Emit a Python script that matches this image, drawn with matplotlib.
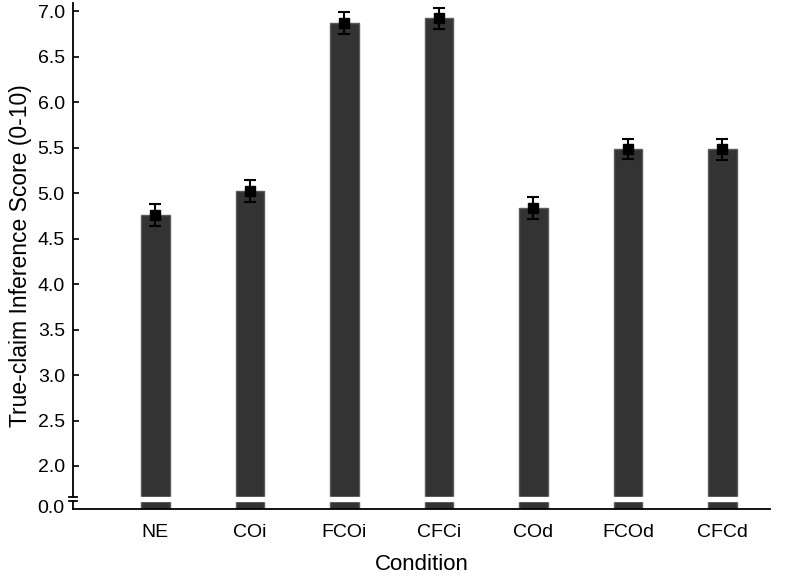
# -*- coding: utf-8 -*-
from matplotlib import pyplot as plt
import numpy as np

plt.rcParams['font.family'] = ['Liberation Sans', 'DejaVu Sans']

# 数据
conditions = ["NE", "COi", "FCOi", "CFCi", "COd", "FCOd", "CFCd"]
scores = [4.76, 5.02, 6.87, 6.92, 4.84, 5.48, 5.48]
errors = [0.12, 0.12, 0.12, 0.12, 0.12, 0.11, 0.12]
ytick_vals = [2.0, 2.5, 3.0, 3.5, 4.0, 4.5, 5.0, 5.5, 6.0, 6.5, 7.0]

# 断轴: 0.0 画在 1.56 的位置
y_bottom = 1.527
y_zero = 1.56
gap = (1.62, 1.66)

fig = plt.figure(figsize=(7.87, 5.76), dpi=100)
ax = fig.add_axes([0.093, 0.1163, 0.885, 0.8785])

x = np.arange(len(conditions))
heights = [s - y_bottom for s in scores]
ax.bar(x, heights, bottom=y_bottom, width=0.3, color="#333333",
       edgecolor="#5a5a5a", linewidth=1, zorder=2)
ax.errorbar(x, scores, yerr=errors, fmt="s", color="black", markersize=6.5,
            ecolor="black", elinewidth=1.5, capsize=4, capthick=1.5, zorder=3)

# 白色断开带
ax.axhspan(gap[0], gap[1], color="white", zorder=4)

ax.set_xlim(-0.87, 6.5)
ax.set_ylim(y_bottom, 7.09)

ax.spines["top"].set_visible(False)
ax.spines["right"].set_visible(False)
ax.spines["left"].set_visible(False)
ax.spines["bottom"].set_linewidth(1.3)
ax.spines["bottom"].set_zorder(5)

# 左轴分两段画
tr = ax.get_yaxis_transform()
ax.plot([0, 0], [gap[1], 7.09], color="black", lw=1.3, transform=tr,
        clip_on=False, zorder=5)
ax.plot([0, 0], [y_bottom, gap[0]], color="black", lw=1.3, transform=tr,
        clip_on=False, zorder=5)
# 断点的小横线
for yy in gap:
    ax.plot([-0.006, 0.006], [yy, yy], color="black", lw=1.3, transform=tr,
            clip_on=False, zorder=5)

ax.set_yticks([y_zero] + ytick_vals)
ax.set_yticklabels(["0.0"] + ["%.1f" % v for v in ytick_vals])
ax.tick_params(axis="y", direction="in", length=4, width=1.2, labelsize=14,
               pad=6)
ax.yaxis.get_major_ticks()[0].tick1line.set_visible(False)

ax.set_xticks(x)
ax.set_xticklabels(conditions)
ax.tick_params(axis="x", length=0, labelsize=14, pad=11)

ax.set_xlabel("Condition", fontsize=16, labelpad=9.5)
ax.set_ylabel("True-claim Inference Score (0-10)", fontsize=16.5, labelpad=4)

plt.savefig("out.png", dpi=100)
